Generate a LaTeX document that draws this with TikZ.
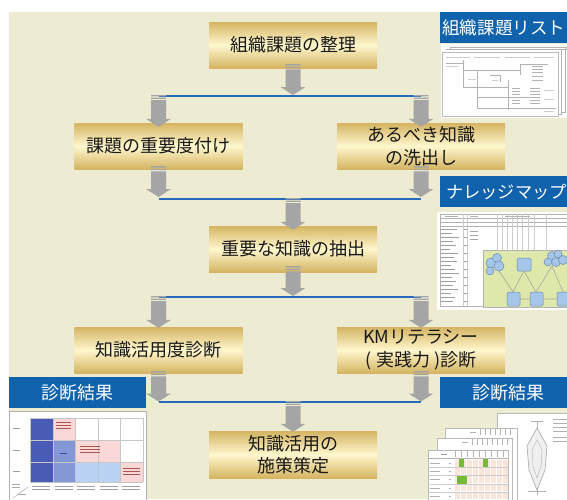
\documentclass[tikz,border=0pt]{standalone}
\usepackage{fontspec}
\newfontfamily\jpfont{Noto Sans CJK JP}
\usetikzlibrary{calc}
\definecolor{bgbeige}{RGB}{238,235,211}
\definecolor{goldedge}{RGB}{212,180,98}
\definecolor{goldcream}{RGB}{255,247,206}
\definecolor{labelblue}{RGB}{16,98,172}
\definecolor{linkblue}{RGB}{38,108,186}
\definecolor{arrowgray}{RGB}{165,165,165}
\definecolor{mapgreen}{RGB}{222,232,170}
\definecolor{mapblue}{RGB}{165,198,232}
\definecolor{mapedge}{RGB}{110,140,175}
\definecolor{darkcell}{RGB}{72,92,182}
\definecolor{midcell}{RGB}{132,152,216}
\definecolor{lightcell}{RGB}{186,210,244}
\definecolor{pinkcell}{RGB}{250,216,216}
\definecolor{greencell}{RGB}{118,186,58}
\definecolor{palecell}{RGB}{248,230,218}
\tikzset{
  stepbox/.style={minimum width=168pt, minimum height=46pt, inner sep=0pt,
    top color=goldedge, bottom color=goldedge, middle color=goldcream,
    font=\jpfont\fontsize{18}{22.5}\selectfont, align=center, text=black!90},
  bluelabel/.style={fill=labelblue, inner sep=0pt, minimum height=31pt,
    font=\jpfont\fontsize{18}{20}\selectfont, text=white},
  junction/.style={draw=linkblue, line width=1.1pt},
  thinrule/.style={draw=gray!60, line width=0.5pt},
  textmark/.style={draw=gray!60, line width=0.9pt},
  pagebox/.style={fill=white, draw=gray!55, line width=0.5pt},
}
\newcommand\grayarrow[2]{%
  \fill[arrowgray] let \p1=(#1), \p2=(#2) in
    (\x1-7.5pt,\y1) rectangle (\x1+7.5pt,\y1-1.3pt)
    (\x1-7.5pt,\y1-2.6pt) rectangle (\x1+7.5pt,\y1-3.9pt)
    (\x1-7.5pt,\y1-5.2pt) -- (\x1+7.5pt,\y1-5.2pt) -- (\x1+7.5pt,\y2+8pt)
    -- (\x1+12.5pt,\y2+8pt) -- (\x1,\y2) -- (\x1-12.5pt,\y2+8pt)
    -- (\x1-7.5pt,\y2+8pt) -- cycle;}
\begin{document}
\begin{tikzpicture}[x=1pt,y=-1pt]
\useasboundingbox (0,0) rectangle (567,499);
\begin{scope}
\clip (0,0) rectangle (567,499);
\fill[bgbeige] (9,12) rectangle (567,499);

% ---------- flow boxes
\node[stepbox] (org) at (293,45) {組織課題の整理};
\node[stepbox] (prio) at (158.5,146) {課題の重要度付け};
\node[stepbox] (ideal) at (421,146) {あるべき知識\\の洗出し};
\node[stepbox] (extract) at (293,249) {重要な知識の抽出};
\node[stepbox] (usage) at (158.5,350) {知識活用度診断};
\node[stepbox] (kmlit) at (421,350) {KMリテラシー\\( 実践力 )診断};
\node[stepbox, minimum height=47pt] (policy) at (293,454.5) {知識活用の\\施策策定};

% ---------- junction lines
\coordinate (j1l) at (158.5,96); \coordinate (j1c) at (293,96); \coordinate (j1r) at (421,96);
\coordinate (j2l) at (158.5,199); \coordinate (j2c) at (293,199); \coordinate (j2r) at (421,199);
\coordinate (j3l) at (158.5,297); \coordinate (j3c) at (293,297); \coordinate (j3r) at (421,297);
\coordinate (j4l) at (158.5,402); \coordinate (j4c) at (293,402); \coordinate (j4r) at (421,402);
\draw[junction] (j1l) -- (j1r);
\draw[junction] (j2l) -- (j2r);
\draw[junction] (j3l) -- (j3r);
\draw[junction] (j4l) -- (j4r);

% ---------- arrows
\grayarrow{$(org.south)+(0,-4)$}{$(j1c)+(0,-1)$}
\grayarrow{$(j1l)+(0,-1)$}{$(prio.north)+(0,4)$}
\grayarrow{$(j1r)+(0,-1)$}{$(ideal.north)+(0,4)$}
\grayarrow{$(prio.south)+(0,-3)$}{$(j2l)+(0,-2)$}
\grayarrow{$(ideal.south)+(0,-3)$}{$(j2r)+(0,-2)$}
\grayarrow{$(j2c)+(0,-1)$}{$(extract.north)+(0,4)$}
\grayarrow{$(extract.south)+(0,-6)$}{$(j3c)+(0,-1)$}
\grayarrow{$(j3l)+(0,-1)$}{$(usage.north)+(0,1)$}
\grayarrow{$(j3r)+(0,-1)$}{$(kmlit.north)+(0,1)$}
\grayarrow{$(usage.south)+(0,-2)$}{$(j4l)+(0,-0.5)$}
\grayarrow{$(kmlit.south)+(0,-2)$}{$(j4r)+(0,-0.5)$}
\grayarrow{$(j4c)+(0,-1)$}{$(policy.north)+(0,1)$}

% ---------- blue labels
\fill[labelblue] (440,12) rectangle (580,43);
\node[bluelabel, fill=none, anchor=west, font=\jpfont\fontsize{17.6}{20}\selectfont] (listlabel) at (442,28) {組織課題リスト};
\fill[labelblue] (440,176) rectangle (580,207);
\node[bluelabel, fill=none, anchor=west, font=\jpfont\fontsize{17.2}{20}\selectfont] (maplabel) at (446,191.5) {ナレッジマップ};
\node[bluelabel, minimum width=137pt] (resleft) at (77.5,392.5) {診断結果};
\fill[labelblue] (440,377) rectangle (580,408);
\node[bluelabel, fill=none] (resright) at (508,392.5) {診断結果};

% ---------- thumbnail 1: issue list
\fill[white] (441,44) rectangle (567,118);
\draw[thinrule] (450,47) -- (567,47) (565,47) -- (565,112) -- (561,112);
\draw[thinrule] (446,49.5) -- (567,49.5) (450,47) -- (450,49.5) (561.5,49.5) -- (561.5,114) -- (558,114);
\draw[pagebox] (442,52) rectangle (558,116);
\foreach \a/\b in {446/470,474/500,505/530,534/554} \draw[textmark, gray!40] (\a,57) -- (\b,57);
\draw[thinrule] (446,63) -- (463,63) (463,60) -- (463,88) (463,70) -- (520,70)
  (477,70) -- (477,108) (463,87) -- (508,87) (508,80) -- (508,110)
  (477,97) -- (540,97) (477,108) -- (556,108) (520,64) -- (520,75) (520,64) -- (548,64)
  (490,75) -- (500,75) (500,75) -- (500,82);
\foreach \y in {66,69,72,76,80} \draw[textmark] (532,\y) -- (543,\y);
\foreach \y in {88,91,94,100,103} \draw[textmark] (512,\y) -- (520,\y) (530,\y) -- (540,\y);
\foreach \y in {90,99,111} \draw[textmark, gray!40] (544,\y) -- (554,\y);
\draw[textmark, gray!40] (446,66) -- (458,66) (468,79) -- (476,79) (492,80) -- (498,80);

% ---------- thumbnail 2: knowledge map
\fill[white] (437,212) rectangle (567,310);
\draw[thinrule] (440,214) rectangle (570,306);
\foreach \y in {218,222,226} \draw[thinrule] (440,\y) -- (567,\y);
\foreach \x in {463,467,497,502,507,512,517,522,528,534,546} \draw[thinrule, gray!40] (\x,214) -- (\x,306);
\foreach \y/\l in {229/16,233/11,237/18,241/12,245/15,249/9,253/17,257/13,261/16,265/10,269/14,273/18,277/11,281/15,285/12,289/17,293/10,297/14,301/12}
  \draw[textmark, gray!75] (441,\y) -- ++(\l,0);
\foreach \y/\l in {229/3,237/3,245/3,253/3,261/3,269/3,277/3,285/3,293/3,301/3}
  \draw[textmark, gray!75] (464,\y) -- ++(\l,0);
\foreach \y in {231,235,239} \draw[textmark, gray!70] (470,\y) -- (478,\y);
\draw[textmark] (445,216) -- (458,216) (470,216) -- (478,216) (505,216) -- (530,216);
\draw[fill=mapgreen, draw=gray!60, line width=0.5pt] (483,250) rectangle (572,307);
\draw[draw=gray!70, line width=0.6pt] (497,268) -- (513,292) (524,271) -- (513,292) (524,271) -- (536,292)
  (552,266) -- (536,292) (552,266) -- (563,292) (520,299) -- (530,299) (543,299) -- (557,299);
\foreach \cx/\cy/\r in {491/263/5,497/258/4.5,499/266/5,490/271/4,552/256/4.5,558/254/4,556/262/4.5,548/262/4,563/260/4.5}
  \draw[fill=mapblue, draw=mapedge, line width=0.5pt] (\cx,\cy) circle (\r);
\foreach \x in {507,530,557}
  \draw[fill=mapblue, draw=mapedge, line width=0.5pt, rounded corners=1.5pt] (\x,292) rectangle ++(13,14);
\draw[fill=mapblue, draw=mapedge, line width=0.5pt, rounded corners=1.5pt] (517,258) rectangle (531,271);

% ---------- thumbnail 3: usage diagnosis matrix
\fill[white] (9,411) rectangle (147,499);
\draw[thinrule] (9.5,411.5) rectangle (146.5,502);
\fill[darkcell] (30,418) rectangle (53,482);
\fill[pinkcell] (53,418) rectangle (75,440);
\fill[midcell] (53,440) rectangle (75,482);
\fill[pinkcell] (75,440) rectangle (120,462);
\fill[lightcell] (75,462) rectangle (120,482);
\fill[pinkcell] (120,462) rectangle (143,482);
\foreach \x in {30,53,75,98,120,143} \draw[thinrule, gray!45] (\x,418) -- (\x,482);
\foreach \y in {418,440,462,482} \draw[thinrule, gray!45] (30,\y) -- (143,\y);
\foreach \y in {428,450,471} \draw[textmark, gray!75] (13,\y) -- (20,\y);
\foreach \y in {422,425,428} \draw[textmark, red!35!gray] (56,\y) -- (71,\y);
\foreach \y in {446,449,452} \draw[textmark, red!35!gray] (80,\y) -- (100,\y);
\foreach \y in {468,471,474} \draw[textmark, red!35!gray] (123,\y) -- (140,\y);
\draw[textmark, darkcell!80!black] (60,453) -- (67,453);
\foreach \x in {32,55,77,100,122} \draw[textmark, gray!75] (\x,486) -- ++(18,0) (\x,489) -- ++(18,0);
\draw[textmark, gray!70] (12,484) -- (20,484) (12,487) -- (20,487);
\draw[thinrule] (13,498) -- (28,487);
\draw[textmark, gray!70] (18,494) -- (26,494);

% ---------- thumbnail 4: literacy diagnosis sheets
\draw[pagebox] (497,413) rectangle (580,505);
\draw[thinrule] (537,422) -- (537,495);
\draw[draw=gray!70, fill=gray!12, line width=0.6pt] (537,428) -- (547,446) -- (545,470) -- (537,490) -- (529,470) -- (527,446) -- cycle;
\draw[draw=gray!60, line width=0.4pt] (537,440) -- (542,450) -- (541,466) -- (537,478) -- (533,466) -- (532,450) -- cycle;
\draw[textmark, gray!60] (531,421) -- (543,421) (528,491) -- (546,491);
\foreach \y in {419,423,427,431,437,441} \draw[textmark, gray!60] (553,\y) -- (567,\y);
\draw[pagebox] (445,428) rectangle (517,505);
\draw[textmark] (470,432) -- (476,432);
\foreach \x in {480,485,...,512} \draw[thinrule] (\x,429) -- (\x,435);
\draw[pagebox] (437,438) rectangle (512,505);
\draw[textmark] (462,442) -- (468,442);
\foreach \x in {472,477,...,508} \draw[thinrule] (\x,439) -- (\x,445);
\draw[pagebox] (428,450) rectangle (508,505);
\foreach \x in {455,461,...,503} \foreach \y in {460,468,...,496} \fill[palecell] (\x,\y) rectangle ++(5,7);
\fill[greencell] (459,459) rectangle (464,468);
\fill[greencell] (483,459) rectangle (488,468);
\fill[greencell] (457,475) rectangle (467,485);
\draw[textmark, gray!80] (441,454) -- (447,454);
\foreach \x in {455,461,...,503} \draw[thinrule] (\x,451) -- (\x,457);
\draw[thinrule] (428,458) -- (508,458);
\foreach \y in {463,471,479,488,496} \draw[textmark] (430,\y) -- (440,\y) (449,\y) -- (451,\y);
\foreach \y in {467,475,484,492} \draw[thinrule, gray!40] (428,\y) -- (508,\y);
\end{scope}
\end{tikzpicture}
\end{document}
